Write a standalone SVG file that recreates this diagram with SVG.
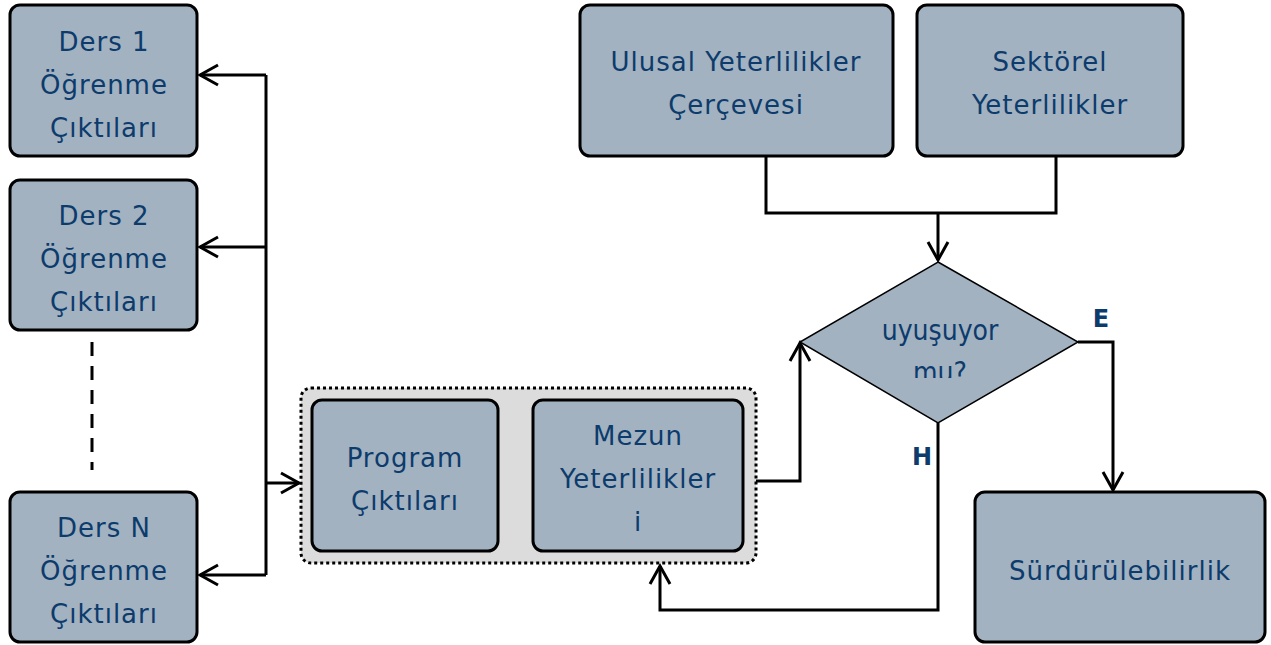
<svg xmlns="http://www.w3.org/2000/svg" width="1271" height="645" viewBox="0 0 1271 645">
<style>
.box{fill:#a2b2c1;stroke:#000;stroke-width:3}
.t{font-family:"DejaVu Sans","Noto Sans",sans-serif;font-size:26px;letter-spacing:1px;fill:#0c3b6c;text-anchor:middle}
.d{font-family:"DejaVu Sans Condensed","DejaVu Sans",sans-serif;font-size:28px;fill:#0c3b6c;text-anchor:middle}
.lab{font-family:"DejaVu Sans","Liberation Sans",sans-serif;font-size:24px;font-weight:bold;fill:#0c3b6c;text-anchor:middle}
.c{fill:none;stroke:#000;stroke-width:3}
</style>
<defs>
<marker id="ah" viewBox="0 0 24 24" refX="21" refY="12" markerWidth="24" markerHeight="24" markerUnits="userSpaceOnUse" orient="auto">
<path d="M3,2 L21,12 L3,22" fill="none" stroke="#000" stroke-width="3"/>
</marker>
<clipPath id="dclip"><rect x="800" y="250" width="300" height="128"/></clipPath>
</defs>
<g id="connectors">
<path class="c" d="M266,75 V575"/>
<path class="c" d="M266,75 H200" marker-end="url(#ah)"/>
<path class="c" d="M266,247 H200" marker-end="url(#ah)"/>
<path class="c" d="M266,575 H200" marker-end="url(#ah)"/>
<path class="c" d="M266,483 H299" marker-end="url(#ah)"/>
<path class="c" d="M92,342 V470" stroke-dasharray="14 10"/>
<path class="c" d="M756,481 H800 V343" marker-end="url(#ah)"/>
<path class="c" d="M766,157 V213 H1056 V157"/>
<path class="c" d="M938,213 V260" marker-end="url(#ah)"/>
<path class="c" d="M1078,342 H1113 V490" marker-end="url(#ah)"/>
<path class="c" d="M938,423 V610 H660 V566" marker-end="url(#ah)"/>
<polygon points="503,470 516,463 529,470 516,477" fill="#fff" stroke="#000" stroke-width="3"/>
<polygon points="503,492 516,485 529,492 516,499" fill="#fff" stroke="#000" stroke-width="3"/>
</g>
<g id="ders1">
<rect class="box" x="10" y="5" width="187" height="151" rx="10"/>
<text class="t" x="104" y="51">Ders 1</text>
<text class="t" x="104" y="94">Öğrenme</text>
<text class="t" x="104" y="137">Çıktıları</text>
</g>
<g id="ders2">
<rect class="box" x="10" y="180" width="187" height="150" rx="10"/>
<text class="t" x="104" y="225">Ders 2</text>
<text class="t" x="104" y="268">Öğrenme</text>
<text class="t" x="104" y="311">Çıktıları</text>
</g>
<g id="dersN">
<rect class="box" x="10" y="492" width="187" height="150" rx="10"/>
<text class="t" x="104" y="537">Ders N</text>
<text class="t" x="104" y="580">Öğrenme</text>
<text class="t" x="104" y="623">Çıktıları</text>
</g>
<g id="container">
<rect x="301" y="388" width="455" height="175" rx="10" fill="#dcdcdc" stroke="#000" stroke-width="3" stroke-dasharray="3 3"/>
</g>
<g id="program">
<rect class="box" x="312" y="400" width="186" height="151" rx="10"/>
<text class="t" x="405" y="467">Program</text>
<text class="t" x="405" y="510">Çıktıları</text>
</g>
<g id="mezun">
<rect class="box" x="533" y="400" width="210" height="151" rx="10"/>
<text class="t" x="638" y="445">Mezun</text>
<text class="t" x="638" y="488">Yeterlilikler</text>
<text class="t" x="638" y="531">i</text>
</g>
<g id="ulusal">
<rect class="box" x="580" y="5" width="313" height="151" rx="10"/>
<text class="t" x="736" y="71">Ulusal Yeterlilikler</text>
<text class="t" x="736" y="114">Çerçevesi</text>
</g>
<g id="sektorel">
<rect class="box" x="917" y="5" width="266" height="151" rx="10"/>
<text class="t" x="1050" y="71">Sektörel</text>
<text class="t" x="1050" y="114">Yeterlilikler</text>
</g>
<g id="decision">
<polygon points="938,262 1078,342 938,423 800,342" fill="#a2b2c1" stroke="#000" stroke-width="1.5"/>
<text class="d" x="940" y="340">uyuşuyor</text>
<text class="d" x="940" y="382" clip-path="url(#dclip)">mu?</text>
</g>
<g id="labels">
<text class="lab" x="1101" y="327">E</text>
<text class="lab" x="922" y="465">H</text>
</g>
<g id="surdurulebilirlik">
<rect class="box" x="975" y="492" width="290" height="150" rx="10"/>
<text class="t" x="1120" y="580">Sürdürülebilirlik</text>
</g>
</svg>
